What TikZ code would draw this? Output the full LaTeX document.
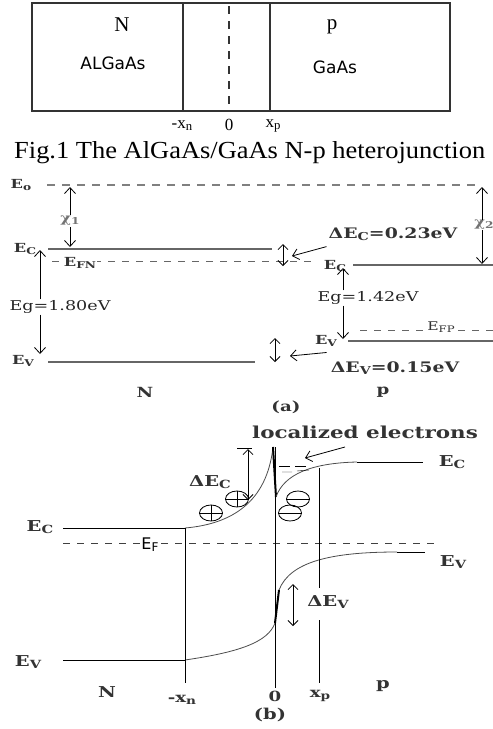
\documentclass[tikz,border=0pt]{standalone}
\usepackage{graphicx}
\usepackage{fontspec}
\setmainfont{Liberation Serif}
\newfontfamily\bandfont[FakeStretch=1.3]{DejaVu Serif}
\newfontfamily\capfont[FakeStretch=1.08]{Liberation Serif}
\newfontfamily\slabfont{DejaVu Sans}
\usetikzlibrary{arrows.meta, positioning, calc, shapes.geometric}
\newcommand{\fs}[1]{\fontsize{#1}{#1}\selectfont}
\newcommand{\lsub}[1]{\raisebox{-0.25ex}{\scalebox{0.75}{#1}}}
\tikzset{
    bandline/.style={draw=black!60, line width=1.2pt},
    vaclevel/.style={draw=black!50, line width=1.1pt, dash pattern=on 8pt off 7pt},
    fermi/.style={draw=black!60, line width=1pt, dash pattern=on 7pt off 7pt},
    barb/.style={-{Straight Barb[length=6pt,width=11pt]}, line width=0.8pt},
    dbarb/.style={{Straight Barb[length=5pt,width=10pt]}-{Straight Barb[length=5pt,width=10pt]}, line width=0.8pt},
    blab/.style={font=\bandfont\bfseries\fs{12.5}, text=black!80, inner sep=1pt},
    eglab/.style={font=\bandfont\fs{13.5}, text=black!85, inner sep=1pt},
    slabtxt/.style={font=\fs{21}, inner sep=1pt},
    sanstxt/.style={font=\slabfont\fs{17}, inner sep=1pt},
    flatband/.style={draw=black, line width=1pt},
    bentband/.style={draw=black!70, line width=0.8pt},
    carrier/.style={draw, ellipse, minimum width=23pt, minimum height=16pt, inner sep=0pt, line width=0.8pt}
}

\begin{document}
\begin{tikzpicture}[x=1pt, y=-1pt]
    \useasboundingbox (0,0) rectangle (493,729);

    % layer structure
    \draw [line width=1.2pt, black!80] (32,3) rectangle (450,111);
    \draw [line width=1.2pt, black!80] (183,3) -- (183,111) (270,3) -- (270,111);
    \draw [line width=1.2pt, black!80, dash pattern=on 8pt off 7pt] (229,6) -- (229,111);
    \node [slabtxt] (nreg) at (122,25) {N};
    \node [sanstxt] (algaas) at (113,63) {ALGaAs};
    \node [slabtxt] (preg) at (332,27) {p};
    \node [sanstxt] (gaas) at (335,67) {GaAs};
    \node [font=\fs{17}] (xnTop) at (182,126) {-x\lsub{n}};
    \node [font=\fs{17}] (zeroTop) at (229,125) {0};
    \node [font=\fs{17}] (xpTop) at (273,126) {x\lsub{p}};
    \node [font=\capfont\fs{24.5}, anchor=west, inner sep=0pt] (cap) at (14,153) {Fig.1 The AlGaAs/GaAs N-p heterojunction};

    % (a) isolated band edges
    \node [blab] (evac) at (21,185) {E\lsub{o}};
    \draw [vaclevel] (47,185) -- (476,185);
    \node [blab, text=black!55] (chi1) at (70,221) {χ\lsub{1}};
    \draw [barb] (chi1.north) -- (70,187);
    \draw [barb] (chi1.south) -- (70,247);

    \node [blab] (ecN) at (25,249) {E\lsub{C}};
    \draw [bandline] (48,249) -- (272,249);
    \draw [fermi] (52,261) -- (318,261);
    \node [blab, fill=white] (efn) at (80,263) {E\lsub{FN}};
    \node [eglab] (egN) at (60,307) {Eg=1.80eV};
    \draw [barb] (40,0 |- egN.north) -- (40,250);
    \draw [barb] (40,0 |- egN.south) -- (40,354);
    \node [blab] (evN) at (23,361) {E\lsub{V}};
    \draw [bandline] (48,362) -- (255,362);
    \node [blab, font=\bandfont\bfseries\fs{14}] (nA) at (145,392) {N};

    \draw [dbarb] (283,244) -- (283,266);
    \node [blab, font=\bandfont\bfseries\fs{14.5}] (dec) at (393,234) {ΔE\lsub{C}=0.23eV};
    \draw [barb] ([shift={(-1,5)}]dec.south west) -- (292,256);
    \node [blab] (ecP) at (335,266) {E\lsub{C}};
    \draw [bandline] (353,265) -- (493,265);
    \node [blab, text=black!55, inner sep=0pt] (chi2) at (484,225) {χ\lsub{2}};
    \draw [barb] (482,0 |- chi2.north) -- (482,187);
    \draw [barb] (482,0 |- chi2.south) -- (482,264);
    \node [eglab] (egP) at (368,298) {Eg=1.42eV};
    \draw [barb] (343,0 |- egP.north) -- (343,268);
    \draw [barb] (343,0 |- egP.south) -- (343,339);
    \node [blab] (evP) at (326,341) {E\lsub{V}};
    \draw [bandline] (348,341) -- (493,341);
    \draw [fermi] (360,330) -- (493,330);
    \node [blab, font=\bandfont\fs{12}, fill=white] (efp) at (441,327) {E\lsub{FP}};
    \draw [dbarb] (275,338) -- (275,362);
    \node [blab, font=\bandfont\bfseries\fs{14.5}] (dev) at (395,368) {ΔE\lsub{V}=0.15eV};
    \draw [barb] ([shift={(-3,-8)}]dev.north west) -- (290,356);
    \node [blab, font=\bandfont\bfseries\fs{14}] (pA) at (383,392) {p};
    \node [blab, font=\bandfont\bfseries\fs{14}] (capA) at (286,407) {(a)};

    % (b) junction in equilibrium
    \node [blab, font=\bandfont\bfseries\fs{16.5}] (loc) at (365,432) {localized electrons};
    \draw [barb] (345,447) -- (305,458);
    \node [blab, font=\bandfont\bfseries\fs{15}] (ecRight) at (452,462) {E\lsub{C}};
    \node [blab, font=\bandfont\bfseries\fs{15}] (ecLeft) at (40,527) {E\lsub{C}};
    \draw [flatband] (63,528) -- (185,528);
    \draw [bentband] (185,528) .. controls (232,524) and (267,502) .. (273,447);
    \draw [line width=2pt] (273,447) -- (276,497);
    \draw [bentband] (276,497) .. controls (284,474) and (312,463) .. (357,462);
    \draw [flatband] (357,462) -- (423,462);
    \draw [thin] (279,466) -- (290,466) (295,466) -- (306,466);
    \draw [thin] (282,472) -- (292,472) (297,471) -- (309,470);
    \draw [thin] (237,448) -- (252,448);
    \draw [dbarb] (248,449) -- (248,500);
    \node [blab, font=\bandfont\bfseries\fs{15}] (decB) at (210,482) {ΔE\lsub{C}};
    \node [carrier] (h1) at (211,513) {};
    \draw [line width=0.8pt] (h1.north) -- (h1.south) (h1.west) -- (h1.east);
    \node [carrier] (h2) at (237,499) {};
    \draw [line width=0.8pt] (h2.north) -- (h2.south) (h2.west) -- (h2.east);
    \node [carrier] (e1) at (298,499) {};
    \draw [line width=0.8pt] (e1.west) -- (e1.east);
    \node [carrier] (e2) at (290,513) {};
    \draw [line width=0.8pt] (e2.west) -- (e2.east);

    \draw [fermi, draw=black!75] (63,543) -- (440,543);
    \node [font=\slabfont\fs{16}, fill=white, inner sep=1pt] (efB) at (150,545) {E\lsub{F}};

    \node [blab, font=\bandfont\bfseries\fs{15}] (evLeft) at (28,662) {E\lsub{V}};
    \draw [flatband] (63,660) -- (185,660);
    \draw [bentband] (185,660) .. controls (240,652) and (268,642) .. (275,623);
    \draw [line width=2pt] (275,623) -- (279,590);
    \draw [bentband] (279,590) .. controls (290,562) and (330,552) .. (397,552);
    \draw [flatband] (397,552) -- (425,552);
    \node [blab, font=\bandfont\bfseries\fs{15}] (evRight) at (453,562) {E\lsub{V}};
    \draw [dbarb] (293,584) -- (293,626);
    \node [blab, font=\bandfont\bfseries\fs{15}] (devB) at (328,602) {ΔE\lsub{V}};

    \draw [line width=1pt] (185,528) -- (185,683);
    \draw [line width=1pt] (275,447) -- (275,688);
    \draw [line width=1pt] (319,468) -- (319,588) (319,620) -- (319,683);
    \node [blab, font=\bandfont\bfseries\fs{15}] (nB) at (107,692) {N};
    \node [blab, font=\bandfont\bfseries\fs{14}] (xnB) at (182,700) {-x\lsub{n}};
    \node [blab, font=\bandfont\bfseries\fs{14}] (zeroB) at (275,696) {0};
    \node [blab, font=\bandfont\bfseries\fs{14}] (xpB) at (320,696) {x\lsub{p}};
    \node [blab, font=\bandfont\bfseries\fs{15}] (pB) at (383,686) {p};
    \node [blab, font=\bandfont\bfseries\fs{15}] (capB) at (270,715) {(b)};
\end{tikzpicture}
\end{document}
